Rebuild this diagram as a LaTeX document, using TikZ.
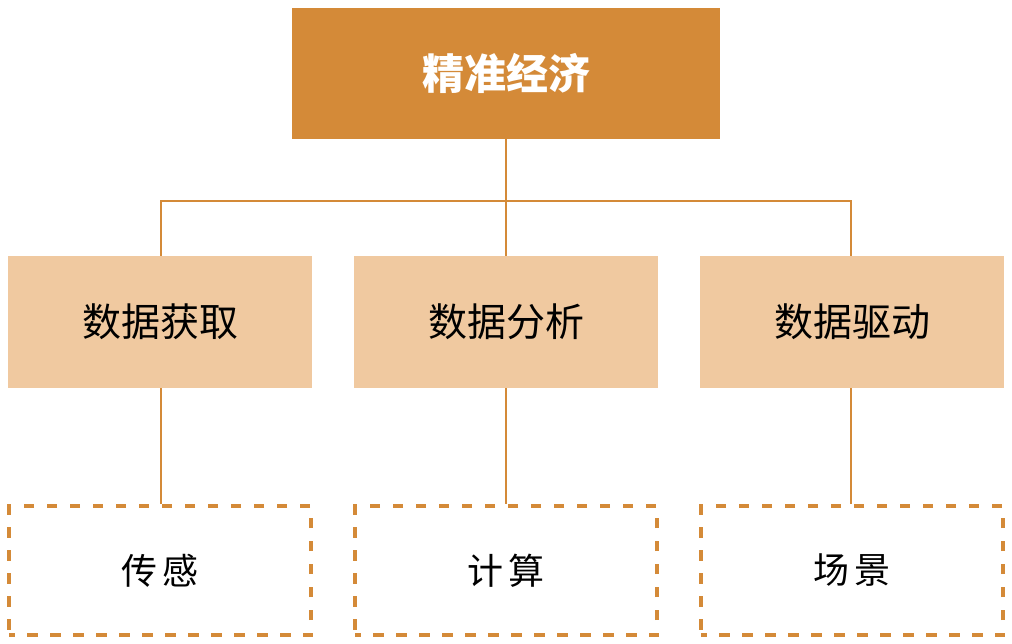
\documentclass[tikz,border=0pt]{standalone}
\usepackage{fontspec}
\newfontfamily\cjk{Noto Sans CJK SC}
\definecolor{dark}{HTML}{D48A38}
\definecolor{light}{HTML}{F0C9A0}
\tikzset{
  topbox/.style={fill=dark, minimum width=428pt, minimum height=131pt, inner sep=0pt, text=white, font=\cjk\bfseries\fontsize{42}{46}\selectfont},
  midbox/.style={fill=light, minimum width=304pt, minimum height=132pt, inner sep=0pt, font=\cjk\fontsize{39}{44}\selectfont},
  leafbox/.style={draw=dark, line width=3.5pt, dash pattern=on 10.5pt off 12.5pt, dash phase=5pt, minimum width=302pt, minimum height=129pt, inner sep=0pt, font=\cjk\fontsize{36}{40}\selectfont},
  link/.style={draw=dark, line width=2.6pt}
}
\begin{document}
\begin{tikzpicture}[x=1pt,y=-1pt]
\useasboundingbox (0,0) rectangle (1012,643);
\node[topbox] (top) at (506,73.5) {精准经济};
\node[midbox] (m1) at (160,322) {数据获取};
\node[midbox] (m2) at (506,322) {数据分析};
\node[midbox] (m3) at (852,322) {数据驱动};
\node[leafbox] (b1) at (160,570.5) {传\,感};
\node[leafbox] (b2) at (506,570.5) {计\,算};
\node[leafbox] (b3) at (852,570.5) {场\,景};
\coordinate (j) at (506,201);
\draw[link] (top.south) -- (m2.north);
\draw[link] (m1.north -| 161,0) |- (j) -| (m3.north -| 851,0);
\draw[link] (m1.south -| 161,0) -- (b1.north -| 161,0);
\draw[link] (m2.south) -- (b2.north);
\draw[link] (m3.south -| 851,0) -- (b3.north -| 851,0);
\end{tikzpicture}
\end{document}
